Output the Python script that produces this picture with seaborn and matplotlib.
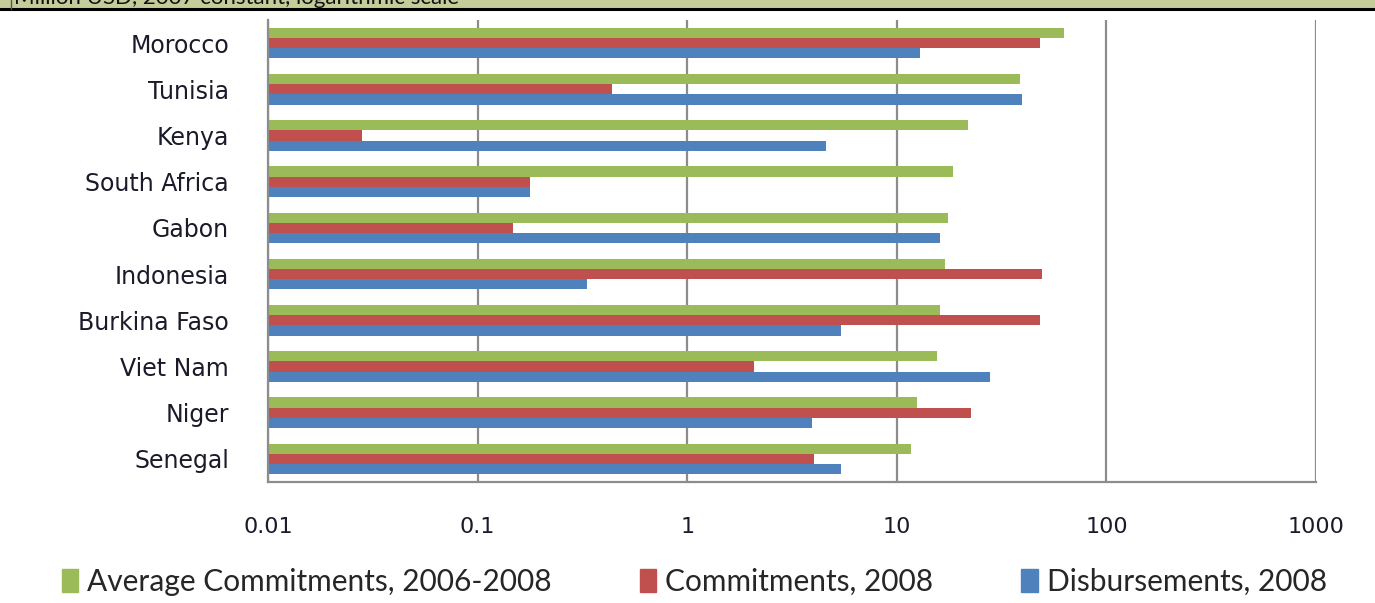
import pandas as pd
import numpy as np
import matplotlib
matplotlib.use("Agg")
import matplotlib.pyplot as plt
import matplotlib.patches as mpatches
import seaborn as sns

countries = ["Morocco", "Tunisia", "Kenya", "South Africa", "Gabon",
             "Indonesia", "Burkina Faso", "Viet Nam", "Niger", "Senegal"]
avg_commit = [63, 38.5, 21.9, 18.6, 17.6, 17.0, 16.0, 15.6, 12.5, 11.7]
commit_2008 = [48, 0.44, 0.028, 0.178, 0.148, 49.5, 48, 2.09, 22.7, 4.04]
disb_2008 = [12.9, 39.7, 4.6, 0.178, 16.0, 0.333, 5.4, 27.9, 3.95, 5.4]
series = ["Average Commitments, 2006-2008", "Commitments, 2008", "Disbursements, 2008"]
xticks = [0.01, 0.1, 1, 10, 100, 1000]
xtick_labels = ["0.01", "0.1", "1", "10", "100", "1000"]

colors = ["#9BBB59", "#C0504D", "#4F81BD"]
gridcol = "#8c8c8c"

df = pd.DataFrame({
    "country": countries * 3,
    "value": avg_commit + commit_2008 + disb_2008,
    "series": [series[0]] * 10 + [series[1]] * 10 + [series[2]] * 10,
})

sns.set_style("white")
plt.rcParams["font.family"] = ["DejaVu Sans"]

fig = plt.figure(figsize=(13.75, 6.03), dpi=100)
ax = fig.add_axes([268 / 1375, 1 - 482 / 603, (1316 - 268) / 1375, (482 - 20) / 603])
ax.set_xscale("log")

sns.barplot(data=df, y="country", x="value", hue="series", hue_order=series,
            order=countries, palette=colors, saturation=1, width=0.66,
            orient="h", ax=ax, legend=False, err_kws={"linewidth": 0},
            linewidth=0, edgecolor="none")

ax.set_xlim(0.01, 1000)
ax.set_ylim(len(countries) - 0.5, -0.5)
ax.set_xticks(xticks)
ax.set_xticklabels(xtick_labels, fontsize=16, color="#1a1a2a")
ax.xaxis.set_minor_locator(matplotlib.ticker.NullLocator())
ax.tick_params(axis="x", direction="out", length=8, width=1.5, color=gridcol, pad=17)

# ticks between groups, labels at group centres
ax.set_yticks(np.arange(-0.5, len(countries), 1.0))
ax.set_yticklabels([])
ax.set_yticks(np.arange(len(countries)), minor=True)
ax.set_yticklabels(countries, minor=True, fontsize=17, color="#1a1a2a")
ax.tick_params(axis="y", which="major", direction="out", length=9, width=1.5, color=gridcol)
ax.tick_params(axis="y", which="minor", length=0, pad=28)

ax.xaxis.grid(True, color=gridcol, linewidth=1.6)
ax.set_axisbelow(True)
for s in ["top", "right"]:
    ax.spines[s].set_visible(False)
for s in ["left", "bottom"]:
    ax.spines[s].set_color(gridcol)
    ax.spines[s].set_linewidth(1.6)
ax.set_xlabel("")
ax.set_ylabel("")

# header strip (cut off at the top of the picture)
fig.patches.append(mpatches.Rectangle((0, 1 - 8 / 603), 1, 8 / 603, transform=fig.transFigure,
                                      facecolor="#C4CC9A", edgecolor="none", zorder=0))
fig.add_artist(matplotlib.lines.Line2D([0, 1], [1 - 9 / 603] * 2, color="black", linewidth=2.2))
fig.add_artist(matplotlib.lines.Line2D([11 / 1375] * 2, [1 - 9 / 603, 1], color="#555555", linewidth=1.0))
fig.text(14 / 1375, 1 - 3.5 / 603, "Million USD, 2007 constant, logarithmic scale",
         fontsize=16, family="Lato", va="baseline", ha="left", color="#111111")

handles = [mpatches.Patch(color=c, label=l) for c, l in zip(colors, series)]
fig.legend(handles=handles, loc="center", bbox_to_anchor=(0.505, 1 - 582 / 603), ncol=3,
           frameon=False, prop={"family": "Lato", "size": 21.5}, handlelength=0.55,
           handleheight=0.8, handletextpad=0.3, columnspacing=2.95, borderaxespad=0)

fig.savefig("out.png", dpi=100)
